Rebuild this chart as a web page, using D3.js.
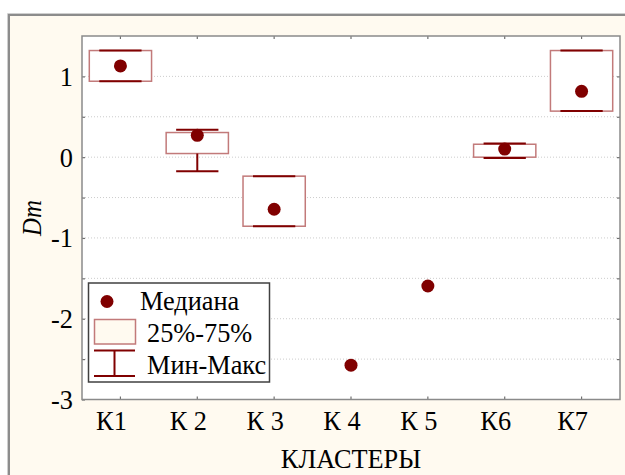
<!DOCTYPE html>
<html><head><meta charset="utf-8">
<script src="https://cdn.jsdelivr.net/npm/d3@7/dist/d3.min.js"></script>
<style>html,body{margin:0;padding:0;background:#fff;}svg{display:block;}</style>
</head><body>
<script>
const categories = ["К1","К 2","К 3","К 4","К 5","К6","К7"];
const medians = [1.13, 0.27, -0.645, -2.575, -1.595, 0.10, 0.815];
const q1 = [0.94, 0.045, -0.855, null, null, 0.00, 0.57];
const q3 = [1.32, 0.305, -0.235, null, null, 0.16, 1.32];
const mins = [0.94, -0.175, -0.855, null, null, -0.01, 0.57];
const maxs = [1.32, 0.34, -0.235, null, null, 0.17, 1.32];
const yTicks = [-3, -2, -1, 0, 1];
const yGrid = [-2.5, -2, -1.5, -1, -0.5, 0, 0.5, 1];
const legendLabels = ["Медиана", "25%-75%", "Мин-Макс"];
const xTitle = "КЛАСТЕРЫ";
const yTitle = "Dm";

const W = 625, H = 475;
const FONT = "'Liberation Serif','Times New Roman',serif";
const FS = 28, SX = 0.94;
const dark = "#800000", boxStroke = "#c27a7a", cream = "#fffaf0";

const svg = d3.select("body").append("svg").attr("width", W).attr("height", H);
svg.append("rect").attr("width", W).attr("height", H).attr("fill", "#fff");
// outer panel
svg.append("rect").attr("x", 8).attr("y", 14).attr("width", W).attr("height", H).attr("fill", cream);
svg.append("path").attr("d", `M7.5,${H}V13.5H${W}`).attr("fill", "none").attr("stroke", "#cfcfcf").attr("stroke-width", 1);
svg.append("path").attr("d", `M9,${H}V15H${W}`).attr("fill", "none").attr("stroke", "#8c8c8c").attr("stroke-width", 2);

const L = 82, R = 620, T = 36, B = 399.5;
const x = d3.scaleBand().domain(categories).range([L, R]).padding(0);
const y = d3.scaleLinear().domain([-3, 1.5]).range([B, T]);

svg.append("rect").attr("x", L).attr("y", T).attr("width", R - L).attr("height", B - T).attr("fill", "#fff");

// grid
svg.append("g").selectAll("line").data(yGrid).join("line")
  .attr("x1", L).attr("x2", R).attr("y1", d => y(d)).attr("y2", d => y(d))
  .attr("stroke", "#cccccc").attr("stroke-width", 1).attr("stroke-dasharray", "1,2");

// axes (ticks inward)
const axL = d3.axisLeft(y).tickValues(yGrid.concat([-3])).tickSize(-3).tickFormat("");
const axR = d3.axisRight(y).tickValues(yGrid).tickSize(-3).tickFormat("");
const axT = d3.axisTop(x).tickSize(-3).tickFormat("");
const axB = d3.axisBottom(x).tickSize(-3).tickFormat("");
[[axL, `translate(${L},0)`], [axR, `translate(${R},0)`], [axT, `translate(0,${T})`], [axB, `translate(0,${B})`]].forEach(([ax, tr]) => {
  const g = svg.append("g").attr("transform", tr).call(ax);
  g.select(".domain").remove();
  g.selectAll("line").attr("stroke", "#707070").attr("stroke-width", 1.2);
});
svg.append("rect").attr("x", L).attr("y", T).attr("width", R - L).attr("height", B - T)
  .attr("fill", "none").attr("stroke", "#8a8a8a").attr("stroke-width", 1.5);

// y tick labels
svg.append("g").selectAll("text").data(yTicks).join("text")
  .attr("transform", d => `translate(73,${y(d) + 9.5}) scale(${SX},1)`)
  .attr("text-anchor", "end").attr("font-family", FONT).attr("font-size", FS).attr("fill", "#000")
  .text(d => d3.format("d")(d).replace("−", "-"));

// x tick labels
svg.append("g").selectAll("text").data(categories).join("text")
  .attr("transform", d => `translate(${x(d) + x.bandwidth() / 2 - 9},430) scale(${SX},1)`)
  .attr("text-anchor", "middle").attr("font-family", FONT).attr("font-size", FS).attr("fill", "#000")
  .text(d => d);

// titles
svg.append("text").attr("transform", `translate(351,468) scale(${SX},1)`).attr("text-anchor", "middle")
  .attr("font-family", FONT).attr("font-size", FS).text(xTitle);
svg.append("text").attr("transform", `translate(41,218) rotate(-90) scale(0.92,1)`).attr("text-anchor", "middle")
  .attr("font-family", FONT).attr("font-style", "italic").attr("font-size", 27).text(yTitle);

// boxes
const bw = x.bandwidth() * 0.81, cw = x.bandwidth() * 0.55;
const idx = categories.map((c, i) => i);
const gB = svg.append("g");
idx.filter(i => q1[i] !== null).forEach(i => {
  const cx = x(categories[i]) + x.bandwidth() / 2;
  gB.append("rect").attr("x", cx - bw / 2).attr("y", y(q3[i])).attr("width", bw).attr("height", y(q1[i]) - y(q3[i]))
    .attr("fill", "#fff").attr("stroke", boxStroke).attr("stroke-width", 1.5);
  if (maxs[i] > q3[i]) gB.append("line").attr("x1", cx).attr("x2", cx).attr("y1", y(q3[i])).attr("y2", y(maxs[i])).attr("stroke", dark).attr("stroke-width", 2);
  if (mins[i] < q1[i]) gB.append("line").attr("x1", cx).attr("x2", cx).attr("y1", y(q1[i])).attr("y2", y(mins[i])).attr("stroke", dark).attr("stroke-width", 2);
  [mins[i], maxs[i]].forEach(v => gB.append("line").attr("x1", cx - cw / 2).attr("x2", cx + cw / 2)
    .attr("y1", y(v)).attr("y2", y(v)).attr("stroke", dark).attr("stroke-width", 2));
});
// medians
svg.append("g").selectAll("circle").data(idx).join("circle")
  .attr("cx", i => x(categories[i]) + x.bandwidth() / 2).attr("cy", i => y(medians[i]))
  .attr("r", 6.5).attr("fill", dark);

// legend
const lg = svg.append("g");
lg.append("rect").attr("x", 88.5).attr("y", 283).attr("width", 181).attr("height", 99)
  .attr("fill", "#fff").attr("stroke", "#404040").attr("stroke-width", 1.5);
lg.append("circle").attr("cx", 107).attr("cy", 301.5).attr("r", 6.5).attr("fill", dark);
lg.append("rect").attr("x", 94.5).attr("y", 319.5).attr("width", 41).attr("height", 24.5)
  .attr("fill", cream).attr("stroke", boxStroke).attr("stroke-width", 1.5);
lg.append("line").attr("x1", 94).attr("x2", 135).attr("y1", 350.5).attr("y2", 350.5).attr("stroke", dark).attr("stroke-width", 2);
lg.append("line").attr("x1", 94).attr("x2", 135).attr("y1", 376).attr("y2", 376).attr("stroke", dark).attr("stroke-width", 2);
lg.append("line").attr("x1", 114.5).attr("x2", 114.5).attr("y1", 350.5).attr("y2", 376).attr("stroke", dark).attr("stroke-width", 2);
lg.selectAll("text.l").data(legendLabels).join("text").attr("class", "l")
  .attr("transform", (d, i) => `translate(${[140, 147, 147][i]},${[309.5, 341.5, 373.5][i]}) scale(${SX},1)`)
  .attr("font-family", FONT).attr("font-size", FS).attr("fill", "#000").text(d => d);
</script>
</body></html>
